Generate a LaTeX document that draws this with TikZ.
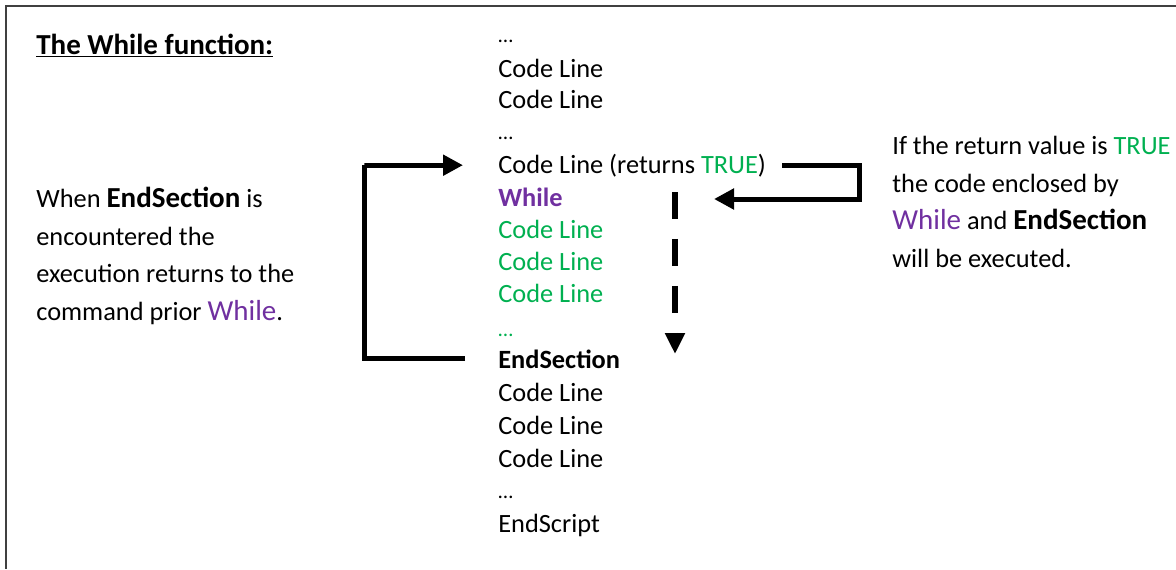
\documentclass[tikz,border=0pt]{standalone}
\usepackage{fontspec}
\setmainfont{Carlito}
\usepackage{xcolor}
\usetikzlibrary{arrows.meta}
\definecolor{codegreen}{RGB}{0,176,80}
\definecolor{codepurple}{RGB}{112,48,160}
\definecolor{framegray}{RGB}{64,64,64}
\newcommand{\bigword}[1]{{\fontsize{16.5}{20}\selectfont #1}}

\begin{document}
\begin{tikzpicture}[
    x=0.02cm, y=-0.02cm,
    codeline/.style={
        anchor=base west,
        inner sep=0pt,
        font=\fontsize{15}{18}\selectfont
    },
    dotsline/.style={
        codeline,
        font=\fontsize{12}{18}\selectfont
    },
    note/.style={
        anchor=base west,  % base = last line here
        inner sep=0pt,
        align=left,
        font=\fontsize{15}{21.3}\selectfont
    },
    loop arrow/.style={
        line width=0.1cm,
        -{Triangle[length=0.4cm,width=0.4cm]}
    },
    flow arrow/.style={
        line width=0.13cm,
        dash pattern=on 0.54cm off 0.4cm,
        -{Triangle[length=0.42cm,width=0.38cm]}
    }
]
    \useasboundingbox (0,0) rectangle (1176,569);
    % frame (open to the right and bottom)
    \draw[framegray, line width=0.04cm] (1176,6) -- (6,6) -- (6,569);

    % title
    \node[codeline, font=\fontsize{16.5}{20}\selectfont\bfseries] (title) at (36,54) {\underline{The While function:}};

    % script lines
    \node[dotsline] (dots1) at (498,42) {…};
    \node[codeline] (cl1) at (498,77) {Code Line};
    \node[codeline] (cl2) at (498,108) {Code Line};
    \node[dotsline] (dots2) at (498,139) {…};
    \node[codeline] (ret) at (498,173) {Code Line (returns \textcolor{codegreen}{TRUE})};
    \node[codeline, text=codepurple] (while) at (498,206) {\textbf{While}};
    \node[codeline, text=codegreen] (body1) at (498,238) {Code Line};
    \node[codeline, text=codegreen] (body2) at (498,270) {Code Line};
    \node[codeline, text=codegreen] (body3) at (498,302) {Code Line};
    \node[dotsline, text=codegreen] (dots3) at (498,336) {…};
    \node[codeline] (es) at (498,368) {\textbf{EndSection}};
    \node[codeline] (after1) at (498,401) {Code Line};
    \node[codeline] (after2) at (498,434) {Code Line};
    \node[codeline] (after3) at (498,467) {Code Line};
    \node[dotsline] (dots4) at (498,498) {…};
    \node[codeline] (endscript) at (498,532) {EndScript};

    % explanations
    \node[note] (leftnote) at (36,320) {When \textbf{\bigword{EndSection}} is\\encountered the\\execution returns to the\\command prior \textcolor{codepurple}{\bigword{While}}.};
    \node[note] (rightnote) at (892,267) {If the return value is \textcolor{codegreen}{TRUE}\\the code enclosed by\\\textcolor{codepurple}{\bigword{While}} and \textbf{\bigword{EndSection}}\\will be executed.};

    % corners and free ends of the arrows
    \coordinate (lturn) at (364,165);
    \coordinate (rturn) at (859,199);
    \coordinate (wtip) at (714,199);
    \coordinate (dtop) at (675,192);
    \coordinate (dtip) at (675,354);

    % loop back from EndSection
    \draw[loop arrow, shorten <=0.66cm, shorten >=0.7cm] (es.west) -| (lturn) |- (ret.west);
    % TRUE enters the body
    \draw[loop arrow, shorten <=0.32cm] (ret.east) -| (rturn) -- (wtip);
    % body runs down
    \draw[flow arrow] (dtop) -- (dtip);
\end{tikzpicture}
\end{document}
